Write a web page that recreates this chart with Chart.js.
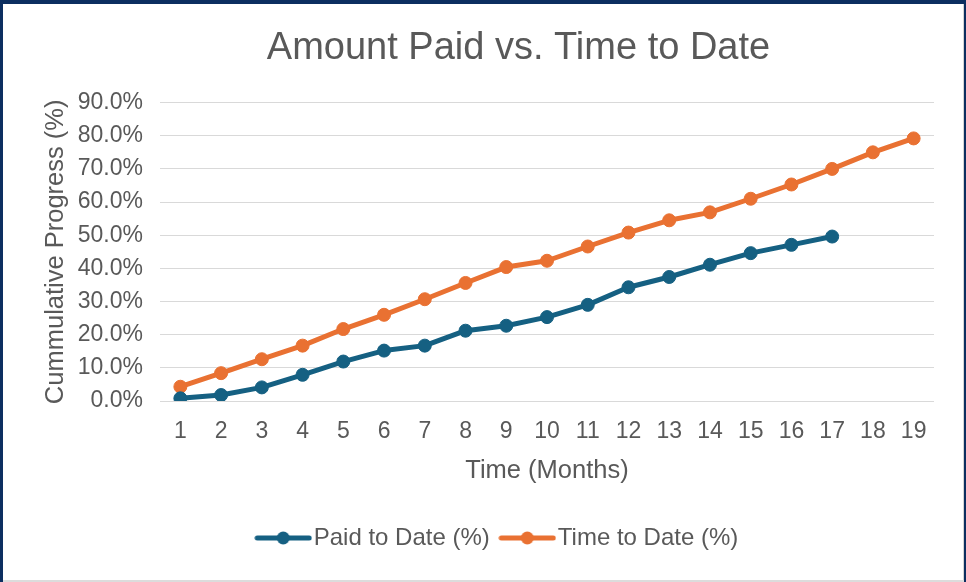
<!DOCTYPE html>
<html>
<head>
<meta charset="utf-8">
<script src="https://cdn.jsdelivr.net/npm/chart.js@4"></script>
<style>
  html, body { margin: 0; padding: 0; }
  body { width: 966px; height: 582px; overflow: hidden; background: #0c2e60; position: relative; }
  #card { position: absolute; left: 3px; top: 4px; width: 960px; height: 576px; background: #fff; border-right: 1px solid #d4d4d4; }
  #strip { position: absolute; left: 3px; top: 580px; width: 961px; height: 2px; background: #dcdcdc; }
  canvas { display: block; }
</style>
</head>
<body>
<div id="card"><canvas id="chart" width="960" height="576"></canvas></div>
<div id="strip"></div>
<script>
// months on the x axis
const months = ['1','2','3','4','5','6','7','8','9','10','11','12','13','14','15','16','17','18','19'];
// cumulative %
const paidToDate = [0.8, 1.8, 4.1, 7.9, 11.9, 15.2, 16.7, 21.2, 22.7, 25.3, 29.0, 34.3, 37.4, 41.1, 44.6, 47.1, 49.6];
const timeToDate = [4.3, 8.4, 12.6, 16.7, 21.7, 26.0, 30.7, 35.6, 40.4, 42.3, 46.6, 50.8, 54.5, 56.9, 61.0, 65.3, 70.0, 75.0, 79.2];
const yMax = 90;
const yStep = 10;

const blue = '#156082';
const orange = '#e97132';
const grey = '#595959';
const fontFamily = "'Liberation Sans', Arial, sans-serif";

// legend marker: short line with a dot in the middle, like Excel
function legendMarker(color) {
    const c = document.createElement('canvas');
    c.width = 58;
    c.height = 16;
    const g = c.getContext('2d');
    g.strokeStyle = color;
    g.lineWidth = 5;
    g.lineCap = 'round';
    g.beginPath();
    g.moveTo(3, 8);
    g.lineTo(55, 8);
    g.stroke();
    g.fillStyle = color;
    g.beginPath();
    g.arc(29, 8, 6.5, 0, Math.PI * 2);
    g.fill();
    return c;
}

// shift title and legend sideways, the original isn't centred on the canvas
const nudge = {
    id: 'nudge',
    afterLayout(chart) {
        chart.titleBlock.left += 50;
        chart.titleBlock.right += 50;
        chart.legend.left += 33;
        chart.legend.right += 33;
    }
};

const ctx = document.getElementById('chart').getContext('2d');

new Chart(ctx, {
    type: 'line',
    data: {
        labels: months,
        datasets: [{
            label: 'Paid to Date (%)',
            data: paidToDate,
            borderColor: blue,
            backgroundColor: blue
        }, {
            label: 'Time to Date (%)',
            data: timeToDate,
            borderColor: orange,
            backgroundColor: orange
        }]
    },
    options: {
        responsive: false,
        animation: false,
        layout: { padding: { left: 0, right: 29, top: 0, bottom: 20 } },
        elements: {
            line: { borderWidth: 5, tension: 0, borderJoinStyle: 'round', borderCapStyle: 'round' },
            point: { pointStyle: 'circle', radius: 6.5, hoverRadius: 6.5, borderWidth: 1 }
        },
        plugins: {
            title: {
                display: true,
                text: 'Amount Paid vs. Time to Date',
                color: grey,
                font: { family: fontFamily, size: 38, weight: 'normal' },
                padding: { top: 22, bottom: 31 }
            },
            legend: {
                position: 'bottom',
                labels: {
                    color: grey,
                    font: { family: fontFamily, size: 24 },
                    usePointStyle: true,
                    pointStyleWidth: 37,
                    padding: 19,
                    generateLabels(chart) {
                        return chart.data.datasets.map((ds, i) => ({
                            text: ds.label,
                            fillStyle: ds.borderColor,
                            strokeStyle: ds.borderColor,
                            pointStyle: legendMarker(ds.borderColor),
                            fontColor: grey,
                            lineWidth: 0,
                            hidden: false,
                            datasetIndex: i
                        }));
                    }
                }
            },
            tooltip: { enabled: false }
        },
        scales: {
            x: {
                offset: true,
                grid: { display: false },
                border: { display: false },
                ticks: {
                    color: grey,
                    font: { family: fontFamily, size: 23 },
                    padding: 9,
                    maxRotation: 0,
                    autoSkip: false
                },
                title: {
                    display: true,
                    text: 'Time (Months)',
                    color: grey,
                    font: { family: fontFamily, size: 25.5 },
                    padding: { top: 8, bottom: 21 }
                },
                afterFit(scale) { scale.height = 106; }
            },
            y: {
                min: 0,
                max: yMax,
                grid: { color: '#d9d9d9', lineWidth: 1, drawTicks: false },
                border: { display: false },
                ticks: {
                    stepSize: yStep,
                    color: grey,
                    font: { family: fontFamily, size: 23 },
                    padding: 17,
                    callback: v => v.toFixed(1) + '%'
                },
                title: {
                    display: true,
                    text: 'Cummulative Progress (%)',
                    color: grey,
                    font: { family: fontFamily, size: 25.5 },
                    padding: { top: 38, bottom: 0 }
                },
                afterFit(scale) { scale.width = 157; }
            }
        }
    },
    plugins: [nudge]
});
</script>
</body>
</html>
